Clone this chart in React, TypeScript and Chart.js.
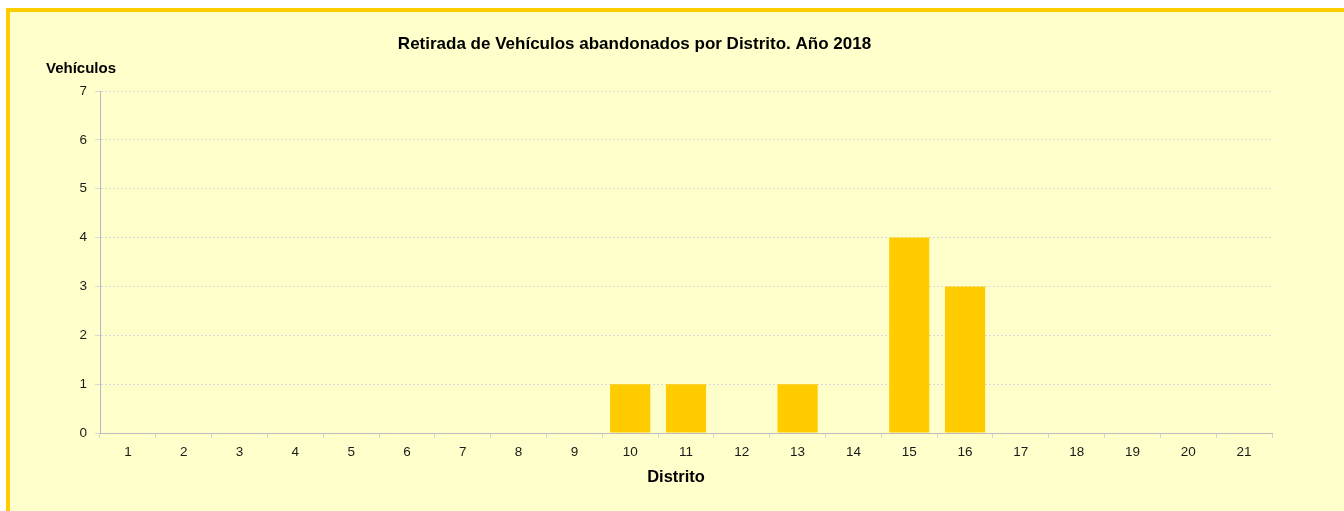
import React, { useEffect, useRef } from "react";
import { Chart, registerables } from "chart.js";

Chart.register(...registerables);

const categories: string[] = [
  "1", "2", "3", "4", "5", "6", "7", "8", "9", "10", "11",
  "12", "13", "14", "15", "16", "17", "18", "19", "20", "21",
];
const vehiculos: number[] = [0, 0, 0, 0, 0, 0, 0, 0, 0, 1, 1, 0, 1, 0, 4, 3, 0, 0, 0, 0, 0];
const yTicks: number[] = [0, 1, 2, 3, 4, 5, 6, 7];
const chartTitle = "Retirada de Vehículos abandonados por Distrito. Año 2018";
const yTitle = "Vehículos";
const xTitle = "Distrito";

const FONT = "'Liberation Sans', Arial, Helvetica, sans-serif";

const textPlugin = {
  id: "customTexts",
  afterDraw(chart: any) {
    const ctx = chart.ctx;
    const area = chart.chartArea;
    ctx.save();
    ctx.fillStyle = "#000000";
    ctx.textBaseline = "alphabetic";
    ctx.font = `bold 17px ${FONT}`;
    ctx.textAlign = "center";
    ctx.fillText(chartTitle, 634.5, area.top - 42);
    ctx.font = `bold 15px ${FONT}`;
    ctx.textAlign = "left";
    ctx.fillText(yTitle, area.left - 54, area.top - 18);
    ctx.font = `bold 16.5px ${FONT}`;
    ctx.textAlign = "center";
    ctx.fillText(xTitle, (area.left + area.right) / 2 - 10, area.bottom + 49);
    ctx.restore();
  },
};

export default function App() {
  const canvasRef = useRef<HTMLCanvasElement | null>(null);

  useEffect(() => {
    if (!canvasRef.current) return;
    const chart = new Chart(canvasRef.current, {
      type: "bar",
      data: {
        labels: categories,
        datasets: [
          {
            label: yTitle,
            data: vehiculos,
            backgroundColor: "#FFCC00",
            borderWidth: 0,
            barPercentage: 0.72,
            categoryPercentage: 1,
          },
        ],
      },
      options: {
        responsive: false,
        animation: false,
        layout: { padding: { left: 0, right: 72, top: 91, bottom: 48 } },
        plugins: {
          legend: { display: false },
          title: { display: false },
          tooltip: { enabled: false },
        },
        scales: {
          x: {
            offset: true,
            grid: {
              display: true,
              drawOnChartArea: false,
              offset: true,
              tickLength: 5,
              color: "#D4D4D4",
            },
            border: { display: true, color: "#BDBDBD", width: 1 },
            ticks: {
              color: "#1A1A1A",
              font: { family: FONT, size: 13.5 },
              padding: 6,
              maxRotation: 0,
              autoSkip: false,
            },
            afterFit(scale: any) {
              scale.height = 30;
            },
          },
          y: {
            min: 0,
            max: 7,
            afterBuildTicks(scale: any) {
              scale.ticks = yTicks.map((v) => ({ value: v }));
            },
            grid: {
              display: true,
              color: "#D8D8D8",
              tickLength: 5,
              lineWidth: 1,
            },
            border: { display: true, color: "#B8B8CC", width: 1, dash: [2, 2] },
            ticks: {
              color: "#1A1A1A",
              font: { family: FONT, size: 13.5 },
              padding: 8,
            },
            afterFit(scale: any) {
              scale.width = 100;
            },
          },
        },
      },
      plugins: [textPlugin],
    });
    return () => chart.destroy();
  }, []);

  return (
    <div
      style={{
        position: "fixed",
        left: 0,
        top: 0,
        width: 1344,
        height: 511,
        background: "#FFFFFF",
        overflow: "hidden",
      }}
    >
      <div
        style={{
          position: "absolute",
          left: 6,
          top: 8,
          width: 1400,
          height: 600,
          background: "#FFFFCC",
          borderLeft: "4px solid #FFCC00",
          borderTop: "4px solid #FFCC00",
        }}
      />
      <canvas
        ref={canvasRef}
        width={1344}
        height={511}
        style={{ position: "absolute", left: 0, top: 0, width: 1344, height: 511 }}
      />
    </div>
  );
}
